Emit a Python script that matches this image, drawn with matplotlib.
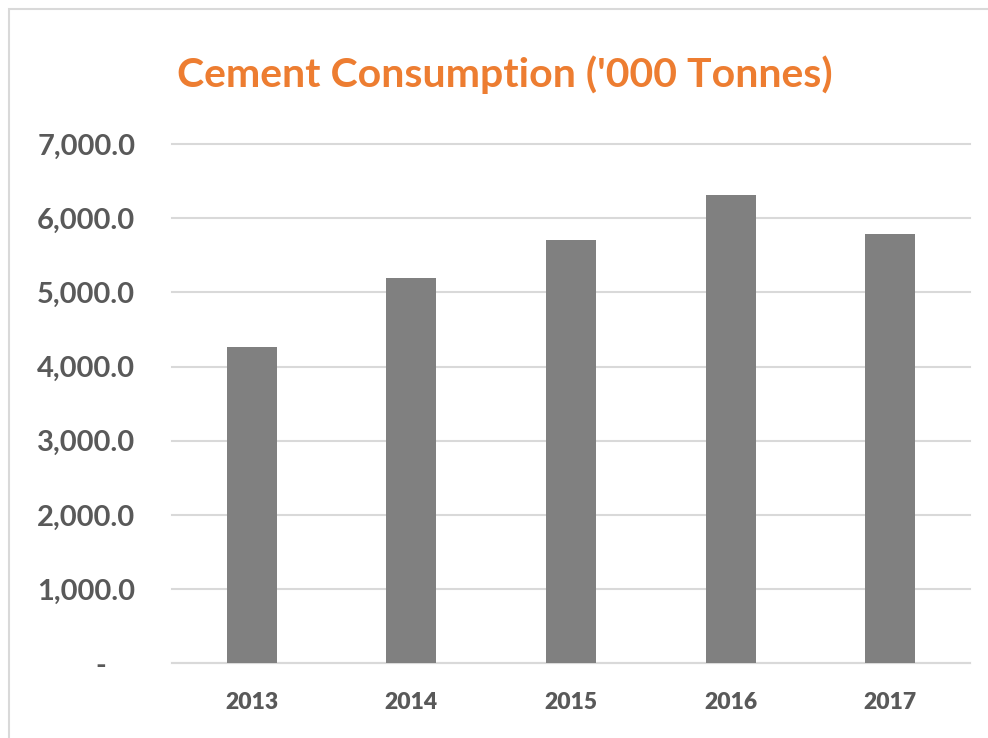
import matplotlib.pyplot as plt
from matplotlib.patches import Rectangle
from matplotlib.ticker import FuncFormatter

years = ["2013", "2014", "2015", "2016", "2017"]
consumption = [4265, 5193, 5705, 6311, 5786]
y_ticks = [0, 1000, 2000, 3000, 4000, 5000, 6000, 7000]

W, H = 988, 738
fig = plt.figure(figsize=(W / 100, H / 100), dpi=100, facecolor="white")

# chart area border (Excel style, runs off the right/bottom edges)
fig.patches.append(Rectangle((9 / W, -0.05), 1.1, 1 - 9 / H + 0.05,
                             transform=fig.transFigure, fill=False,
                             edgecolor="#D9D9D9", linewidth=1.5))

ax = fig.add_axes([172 / W, 1 - 663.3 / H, (970 - 172) / W, (663.3 - 144) / H])
ax.bar(years, consumption, width=0.313, color="#808080", zorder=3)
ax.set_xlim(-0.5, len(years) - 0.5)
ax.set_ylim(0, 7000)
ax.set_yticks(y_ticks)
# accounting style: zero shown as a dash, a bit left of the numbers
ax.yaxis.set_major_formatter(FuncFormatter(lambda v, p: "-    " if v == 0 else f"{v:,.1f}"))
ax.grid(axis="y", color="#D9D9D9", linewidth=1.5, zorder=0)
for line in ax.get_ygridlines():
    line.set_clip_on(False)
for s in ["top", "right", "left"]:
    ax.spines[s].set_visible(False)
ax.spines["bottom"].set_color("#D9D9D9")
ax.spines["bottom"].set_linewidth(1.5)
ax.tick_params(axis="both", length=0)
ax.tick_params(axis="y", pad=26.5, labelsize=21, labelcolor="#595959")
ax.tick_params(axis="x", pad=21, labelsize=16.5, labelcolor="#595959")
for lb in ax.get_yticklabels():
    lb.set_fontweight("bold")
    lb.set_family("Lato")
for lb in ax.get_xticklabels():
    lb.set_fontweight("heavy")
    lb.set_family("Lato")

fig.text(505 / W, 1 - 87 / H, "Cement Consumption ('000 Tonnes)", ha="center", va="baseline",
         fontsize=29.5, fontweight="bold", color="#ED7D31", family="Lato")

fig.savefig("out.png", dpi=100, facecolor="white")
